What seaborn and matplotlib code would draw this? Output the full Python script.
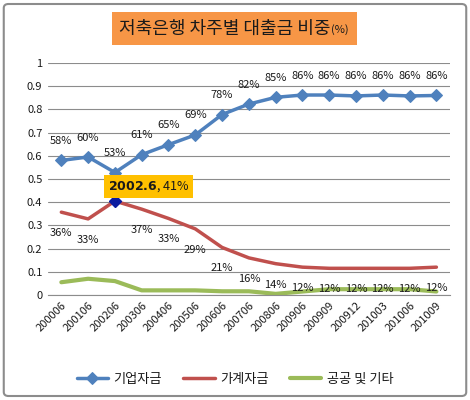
import matplotlib
matplotlib.use("Agg")
import matplotlib.pyplot as plt
from matplotlib.patches import FancyBboxPatch
import numpy as np
import pandas as pd
import seaborn as sns

# data
periods = ['200006', '200106', '200206', '200306', '200406', '200506', '200606',
           '200706', '200806', '200906', '200909', '200912', '201003', '201006', '201009']
corp = [0.58, 0.595, 0.528, 0.605, 0.648, 0.69, 0.778, 0.823, 0.852, 0.862,
        0.862, 0.858, 0.862, 0.858, 0.86]
household = [0.357, 0.328, 0.405, 0.37, 0.33, 0.285, 0.205, 0.16, 0.135, 0.12,
             0.115, 0.115, 0.115, 0.115, 0.12]
public = [0.055, 0.07, 0.06, 0.02, 0.02, 0.02, 0.016, 0.016, 0.005, 0.015,
          0.025, 0.025, 0.025, 0.025, 0.015]
corp_labels = ['58%', '60%', '53%', '61%', '65%', '69%', '78%', '82%', '85%', '86%',
               '86%', '86%', '86%', '86%', '86%']
house_labels = ['36%', '33%', None, '37%', '33%', '29%', '21%', '16%', '14%', '12%',
                '12%', '12%', '12%', '12%', '12%']
series_names = ['기업자금', '가계자금', '공공 및 기타']
colors = ['#4F81BD', '#C0504D', '#9BBB59']

df = pd.DataFrame({'period': periods, 'x': range(len(periods)),
                   series_names[0]: corp, series_names[1]: household,
                   series_names[2]: public})

sns.set_style("white")
plt.rcParams['font.family'] = ['Noto Sans CJK KR', 'DejaVu Sans']
plt.rcParams['text.color'] = '#1a1a1a'

fig = plt.figure(figsize=(4.7, 4.0), dpi=100)
ax = fig.add_axes([0.102, 0.2625, 0.855, 0.58])

sns.lineplot(data=df, x='x', y=series_names[0], ax=ax, color=colors[0], lw=2.5,
             marker='D', markersize=6, markeredgecolor=colors[0], label=series_names[0])
sns.lineplot(data=df, x='x', y=series_names[1], ax=ax, color=colors[1], lw=2.5,
             label=series_names[1])
sns.lineplot(data=df, x='x', y=series_names[2], ax=ax, color=colors[2], lw=3,
             label=series_names[2])

# highlighted point
ax.plot(2, household[2], marker='D', color='#0B1B9F', markersize=6, zorder=5)
ax.text(3.25, 0.468, r'$\bf{2002.6}$, 41%', fontsize=9, va='center', ha='center',
        bbox=dict(boxstyle='square,pad=0.3', fc='#FFC000', ec='none'), zorder=6)

for i, lab in enumerate(corp_labels):
    ax.annotate(lab, (i, corp[i]), xytext=(0, 14), textcoords='offset points',
                ha='center', va='center', fontsize=8)
for i, lab in enumerate(house_labels):
    if lab:
        ax.annotate(lab, (i, household[i]), xytext=(0, -15), textcoords='offset points',
                    ha='center', va='center', fontsize=8)

ax.set_xlim(-0.5, len(periods) - 0.5)
ax.set_ylim(0, 1)
ax.set_yticks(np.arange(0, 1.01, 0.1))
ax.set_yticklabels(['0', '0.1', '0.2', '0.3', '0.4', '0.5', '0.6', '0.7', '0.8', '0.9', '1'],
                   fontsize=8)
ax.set_xticks(range(len(periods)))
ax.set_xticklabels(periods, rotation=45, ha='right', rotation_mode='anchor', fontsize=8)
ax.tick_params(axis='both', length=0, pad=4, labelcolor='#1a1a1a')
ax.yaxis.grid(True, color='#8C8C8C', lw=0.8)
ax.set_axisbelow(True)
for s in ['top', 'right', 'left']:
    ax.spines[s].set_visible(False)
ax.spines['bottom'].set_color('#8C8C8C')
ax.spines['bottom'].set_linewidth(0.8)
ax.set_xlabel('')
ax.set_ylabel('')

ax.legend(loc='center', bbox_to_anchor=(0.5, 0.052), bbox_transform=fig.transFigure,
          ncol=3, frameon=False, fontsize=9.5, handlelength=2.4, handletextpad=0.4,
          columnspacing=1.6)

# title box
fig.patches.append(FancyBboxPatch((0.238, 0.888), 0.522, 0.082, boxstyle='square,pad=0',
                                  transform=fig.transFigure, fc='#F79646', ec='none',
                                  zorder=0))
fig.text(0.703, 0.928, '저축은행 차주별 대출금 비중', fontsize=13, ha='right', va='center')
fig.text(0.705, 0.925, '(%)', fontsize=8, ha='left', va='center')

# outer border
fig.patches.append(FancyBboxPatch((0.008, 0.01), 0.984, 0.98,
                                  boxstyle='round,pad=0,rounding_size=0.01',
                                  transform=fig.transFigure, fc='none', ec='#8C8C8C',
                                  lw=1.5))

fig.savefig('out.png', dpi=100)
